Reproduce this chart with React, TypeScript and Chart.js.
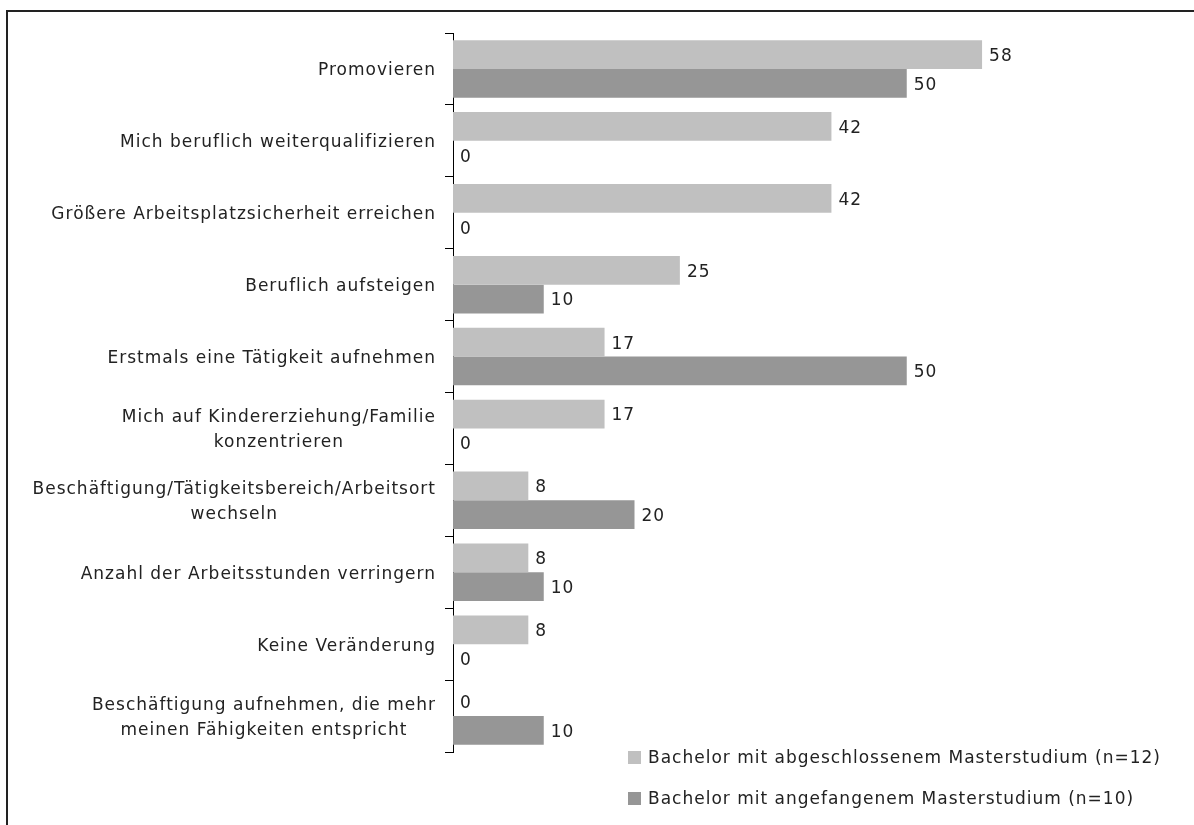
import React, { useEffect, useRef } from "react";
import { Chart, registerables } from "chart.js";

Chart.register(...registerables);

const categories: string[][] = [
  ["Promovieren"],
  ["Mich beruflich weiterqualifizieren"],
  ["Größere Arbeitsplatzsicherheit erreichen"],
  ["Beruflich aufsteigen"],
  ["Erstmals eine Tätigkeit aufnehmen"],
  ["Mich auf Kindererziehung/Familie", "konzentrieren"],
  ["Beschäftigung/Tätigkeitsbereich/Arbeitsort", "wechseln"],
  ["Anzahl der Arbeitsstunden verringern"],
  ["Keine Veränderung"],
  ["Beschäftigung aufnehmen, die mehr", "meinen Fähigkeiten entspricht"],
];

const completedMaster: number[] = [58.3, 41.7, 41.7, 25, 16.7, 16.7, 8.3, 8.3, 8.3, 0];
const startedMaster: number[] = [50, 0, 0, 10, 50, 0, 20, 10, 0, 10];

const seriesNames: string[] = [
  "Bachelor mit abgeschlossenem Masterstudium (n=12)",
  "Bachelor mit angefangenem Masterstudium (n=10)",
];

const LIGHT = "#c0c0c0";
const DARK = "#969696";
const TEXT = "#222222";
const FONT_FAMILY = "'DejaVu Sans', sans-serif";
const FONT_SIZE = 17;

const labelPlugin = {
  id: "customLabels",
  afterDraw(chart: any) {
    const ctx = chart.ctx;
    const yScale = chart.scales.y;
    ctx.save();
    ctx.font = `${FONT_SIZE}px ${FONT_FAMILY}`;
    (ctx as any).letterSpacing = "1px";
    ctx.fillStyle = TEXT;
    ctx.textBaseline = "middle";
    // category labels (centered lines, block right-aligned)
    const rightEdge = yScale.right - 17;
    const lineH = 25;
    categories.forEach((lines, i) => {
      const cy = yScale.getPixelForValue(i) + 2;
      const maxW = Math.max(...lines.map((l) => ctx.measureText(l).width));
      const cx = rightEdge - maxW / 2;
      ctx.textAlign = "center";
      const startY = cy - ((lines.length - 1) * lineH) / 2;
      lines.forEach((l, j) => ctx.fillText(l, cx, startY + j * lineH));
    });
    // value labels
    ctx.textAlign = "left";
    chart.data.datasets.forEach((ds: any, di: number) => {
      const meta = chart.getDatasetMeta(di);
      meta.data.forEach((bar: any, i: number) => {
        const v = ds.data[i];
        ctx.fillText(String(Math.round(v)), bar.x + 7, bar.y + 2);
      });
    });
    // legend
    const lx = 628;
    const ly = [757, 798];
    seriesNames.forEach((name, i) => {
      ctx.fillStyle = i === 0 ? LIGHT : DARK;
      ctx.fillRect(lx, ly[i] - 6, 13, 13);
      ctx.fillStyle = TEXT;
      ctx.fillText(name, lx + 20, ly[i] + 2);
    });
    ctx.restore();
  },
};

export default function App() {
  const canvasRef = useRef<HTMLCanvasElement | null>(null);

  useEffect(() => {
    if (!canvasRef.current) return;
    const chart = new Chart(canvasRef.current, {
      type: "bar",
      data: {
        labels: categories.map((c) => c.join(" ")),
        datasets: [
          {
            label: seriesNames[0],
            data: completedMaster,
            backgroundColor: LIGHT,
            borderWidth: 0,
            categoryPercentage: 0.8,
            barPercentage: 1.0,
          },
          {
            label: seriesNames[1],
            data: startedMaster,
            backgroundColor: DARK,
            borderWidth: 0,
            categoryPercentage: 0.8,
            barPercentage: 1.0,
          },
        ],
      },
      options: {
        indexAxis: "y",
        responsive: false,
        animation: false,
        maintainAspectRatio: false,
        layout: { padding: { left: 0, top: 33, bottom: 73, right: 15 } },
        plugins: {
          legend: { display: false },
          tooltip: { enabled: false },
        },
        scales: {
          x: {
            display: false,
            min: 0,
            max: 80,
          },
          y: {
            offset: true,
            grid: {
              display: true,
              offset: true,
              drawOnChartArea: false,
              drawTicks: true,
              tickLength: 8,
              color: "#000",
              lineWidth: 1,
            },
            border: { display: true, color: "#000", width: 1 },
            ticks: { color: "rgba(0,0,0,0)", font: { size: 1 } },
            afterFit: (scale: any) => {
              scale.width = 453;
            },
          },
        },
      },
      plugins: [labelPlugin],
    });
    return () => chart.destroy();
  }, []);

  return (
    <div style={{ position: "absolute", left: 0, top: 0, width: 1194, height: 825, overflow: "hidden", background: "#fff" }}>
      <div
        style={{
          position: "absolute",
          left: 6,
          top: 10,
          width: 1300,
          height: 1000,
          borderTop: "2px solid #222",
          borderLeft: "2px solid #222",
        }}
      />
      <canvas ref={canvasRef} width={1194} height={825} style={{ position: "absolute", left: 0, top: 0 }} />
    </div>
  );
}
